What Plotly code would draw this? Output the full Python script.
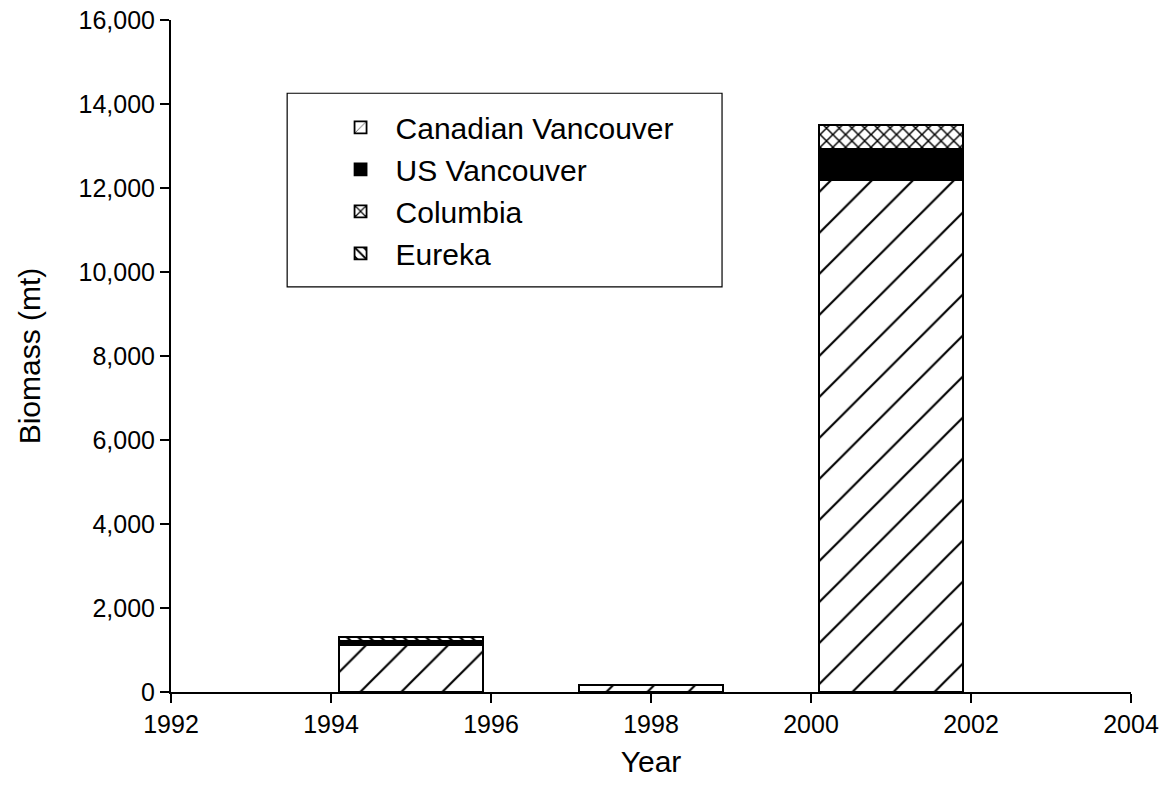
import plotly.graph_objects as go

years = [1995, 1998, 2001]
canadian_vancouver = [1120, 160, 12200]
us_vancouver = [70, 0, 730]
columbia = [20, 0, 570]
eureka = [100, 0, 0]

series_names = ["Canadian Vancouver", "US Vancouver", "Columbia", "Eureka"]
x_ticks = [1992, 1994, 1996, 1998, 2000, 2002, 2004]
y_ticks = [0, 2000, 4000, 6000, 8000, 10000, 12000, 14000, 16000]

FONT = "Liberation Sans, Arial, sans-serif"

patterns = [
    dict(shape="/", fgcolor="black", bgcolor="white", size=29, solidity=0.075, fgopacity=1),
    None,
    dict(shape="x", fgcolor="black", bgcolor="white", size=9, solidity=0.3, fgopacity=1),
    dict(shape="\\", fgcolor="black", bgcolor="white", size=8, solidity=0.3, fgopacity=1),
]
fills = ["white", "black", "white", "white"]
values = [canadian_vancouver, us_vancouver, columbia, eureka]

fig = go.Figure()
for name, vals, pat, fill in zip(series_names, values, patterns, fills):
    marker = dict(color=fill, line=dict(color="black", width=1.8))
    if pat is not None:
        marker["pattern"] = pat
    fig.add_trace(go.Bar(x=years, y=vals, name=name, width=1.8, marker=marker))

fig.update_layout(
    barmode="stack",
    width=1161, height=799,
    margin=dict(l=171, r=30, t=20, b=107),
    paper_bgcolor="white", plot_bgcolor="white",
    font=dict(family=FONT, size=25, color="black"),
    legend=dict(
        x=0.161, y=0.879, xanchor="left", yanchor="top",
        traceorder="normal",
        bgcolor="rgba(0,0,0,0)",
        font=dict(size=30, family=FONT),
        itemwidth=60,
        tracegroupgap=0,
    ),
    shapes=[dict(type="rect", xref="paper", yref="paper",
                 x0=0.121, x1=0.574, y0=0.603, y1=0.891,
                 line=dict(color="black", width=1.2), fillcolor="rgba(0,0,0,0)",
                 layer="below")],
)
fig.update_xaxes(
    range=[1992, 2004], tickvals=x_ticks, ticktext=[str(t) for t in x_ticks],
    showline=True, linecolor="black", linewidth=2,
    ticks="outside", ticklen=9, tickwidth=1.5, tickcolor="black",
    showgrid=False, zeroline=False, automargin=False, ticklabeloverflow="allow",
    title=dict(text="Year", font=dict(size=30, family=FONT), standoff=14),
)
fig.update_yaxes(
    range=[0, 16000], tickvals=y_ticks, tickformat=",d",
    showline=True, linecolor="black", linewidth=2,
    ticks="outside", ticklen=9, tickwidth=1.5, tickcolor="black",
    showgrid=False, zeroline=False, automargin=False, ticklabeloverflow="allow",
    title=dict(text="Biomass (mt)", font=dict(size=30, family=FONT), standoff=29),
)

fig.write_html(
    "out.html",
    config={"displayModeBar": False},
    post_script="document.body.style.margin='0';document.body.style.overflow='hidden';",
)
